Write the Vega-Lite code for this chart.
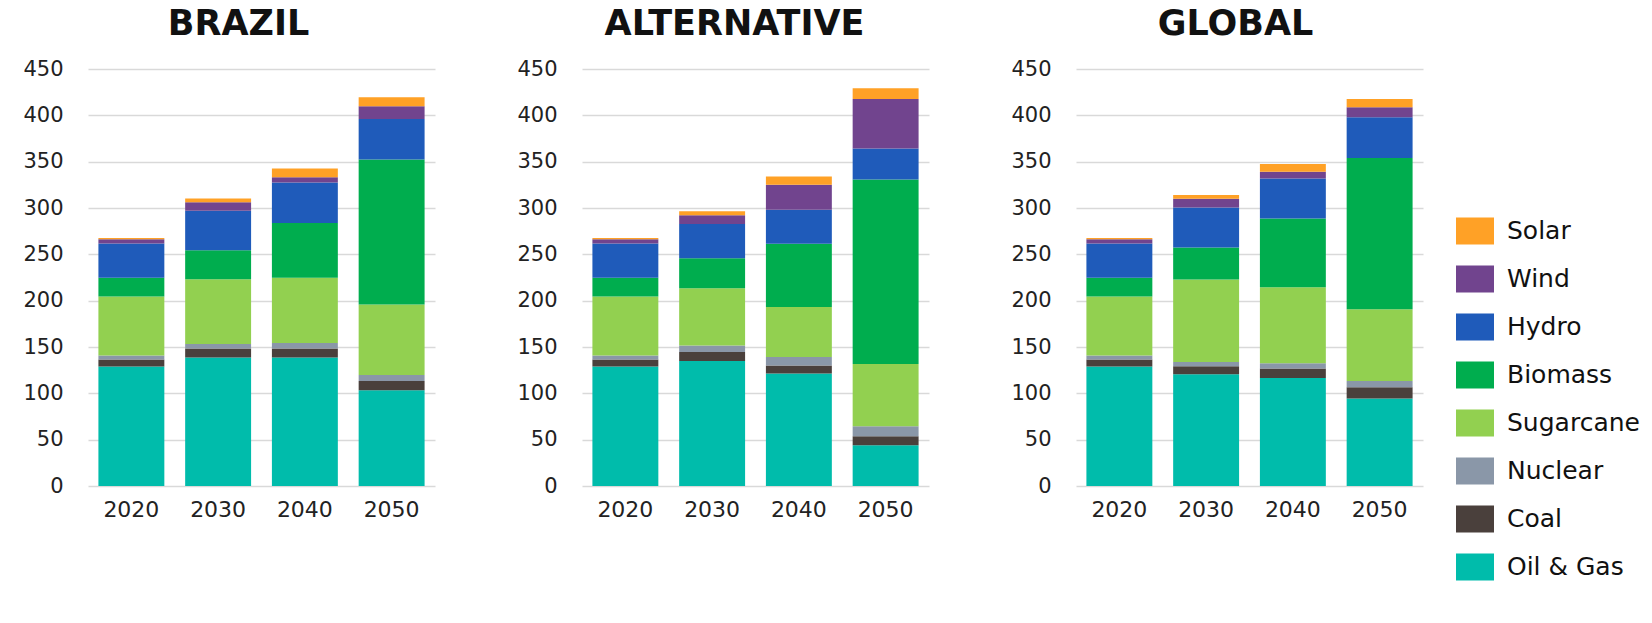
{
  "$schema": "https://vega.github.io/schema/vega-lite/v6.json",
  "padding": {"left": 22, "top": 7, "right": 0, "bottom": 0},
  "background": "white",
  "data": {"values": [
    {"scenario":"BRAZIL","year":"2020","source":"Oil & Gas","value":129},
    {"scenario":"BRAZIL","year":"2020","source":"Coal","value":7.5},
    {"scenario":"BRAZIL","year":"2020","source":"Nuclear","value":4.3},
    {"scenario":"BRAZIL","year":"2020","source":"Sugarcane","value":63.8},
    {"scenario":"BRAZIL","year":"2020","source":"Biomass","value":20},
    {"scenario":"BRAZIL","year":"2020","source":"Hydro","value":37},
    {"scenario":"BRAZIL","year":"2020","source":"Wind","value":4.7},
    {"scenario":"BRAZIL","year":"2020","source":"Solar","value":1.4},
    {"scenario":"BRAZIL","year":"2030","source":"Oil & Gas","value":138.6},
    {"scenario":"BRAZIL","year":"2030","source":"Coal","value":9.7},
    {"scenario":"BRAZIL","year":"2030","source":"Nuclear","value":5},
    {"scenario":"BRAZIL","year":"2030","source":"Sugarcane","value":69.9},
    {"scenario":"BRAZIL","year":"2030","source":"Biomass","value":31.3},
    {"scenario":"BRAZIL","year":"2030","source":"Hydro","value":42.5},
    {"scenario":"BRAZIL","year":"2030","source":"Wind","value":9.3},
    {"scenario":"BRAZIL","year":"2030","source":"Solar","value":4},
    {"scenario":"BRAZIL","year":"2040","source":"Oil & Gas","value":138.6},
    {"scenario":"BRAZIL","year":"2040","source":"Coal","value":9.7},
    {"scenario":"BRAZIL","year":"2040","source":"Nuclear","value":6.1},
    {"scenario":"BRAZIL","year":"2040","source":"Sugarcane","value":70.2},
    {"scenario":"BRAZIL","year":"2040","source":"Biomass","value":59.1},
    {"scenario":"BRAZIL","year":"2040","source":"Hydro","value":43.9},
    {"scenario":"BRAZIL","year":"2040","source":"Wind","value":5.7},
    {"scenario":"BRAZIL","year":"2040","source":"Solar","value":9.4},
    {"scenario":"BRAZIL","year":"2050","source":"Oil & Gas","value":103.3},
    {"scenario":"BRAZIL","year":"2050","source":"Coal","value":10.1},
    {"scenario":"BRAZIL","year":"2050","source":"Nuclear","value":6.5},
    {"scenario":"BRAZIL","year":"2050","source":"Sugarcane","value":75.9},
    {"scenario":"BRAZIL","year":"2050","source":"Biomass","value":156.6},
    {"scenario":"BRAZIL","year":"2050","source":"Hydro","value":43.6},
    {"scenario":"BRAZIL","year":"2050","source":"Wind","value":13.7},
    {"scenario":"BRAZIL","year":"2050","source":"Solar","value":9.7},
    {"scenario":"ALTERNATIVE","year":"2020","source":"Oil & Gas","value":129},
    {"scenario":"ALTERNATIVE","year":"2020","source":"Coal","value":7.5},
    {"scenario":"ALTERNATIVE","year":"2020","source":"Nuclear","value":4.3},
    {"scenario":"ALTERNATIVE","year":"2020","source":"Sugarcane","value":63.8},
    {"scenario":"ALTERNATIVE","year":"2020","source":"Biomass","value":20},
    {"scenario":"ALTERNATIVE","year":"2020","source":"Hydro","value":37},
    {"scenario":"ALTERNATIVE","year":"2020","source":"Wind","value":4.7},
    {"scenario":"ALTERNATIVE","year":"2020","source":"Solar","value":1.4},
    {"scenario":"ALTERNATIVE","year":"2030","source":"Oil & Gas","value":135},
    {"scenario":"ALTERNATIVE","year":"2030","source":"Coal","value":9.7},
    {"scenario":"ALTERNATIVE","year":"2030","source":"Nuclear","value":6.8},
    {"scenario":"ALTERNATIVE","year":"2030","source":"Sugarcane","value":62},
    {"scenario":"ALTERNATIVE","year":"2030","source":"Biomass","value":32.4},
    {"scenario":"ALTERNATIVE","year":"2030","source":"Hydro","value":36.7},
    {"scenario":"ALTERNATIVE","year":"2030","source":"Wind","value":9.7},
    {"scenario":"ALTERNATIVE","year":"2030","source":"Solar","value":4.3},
    {"scenario":"ALTERNATIVE","year":"2040","source":"Oil & Gas","value":121.3},
    {"scenario":"ALTERNATIVE","year":"2040","source":"Coal","value":8.7},
    {"scenario":"ALTERNATIVE","year":"2040","source":"Nuclear","value":9.3},
    {"scenario":"ALTERNATIVE","year":"2040","source":"Sugarcane","value":54},
    {"scenario":"ALTERNATIVE","year":"2040","source":"Biomass","value":68},
    {"scenario":"ALTERNATIVE","year":"2040","source":"Hydro","value":36.7},
    {"scenario":"ALTERNATIVE","year":"2040","source":"Wind","value":27},
    {"scenario":"ALTERNATIVE","year":"2040","source":"Solar","value":9},
    {"scenario":"ALTERNATIVE","year":"2050","source":"Oil & Gas","value":43.9},
    {"scenario":"ALTERNATIVE","year":"2050","source":"Coal","value":9.7},
    {"scenario":"ALTERNATIVE","year":"2050","source":"Nuclear","value":10.8},
    {"scenario":"ALTERNATIVE","year":"2050","source":"Sugarcane","value":67.3},
    {"scenario":"ALTERNATIVE","year":"2050","source":"Biomass","value":199.1},
    {"scenario":"ALTERNATIVE","year":"2050","source":"Hydro","value":33.5},
    {"scenario":"ALTERNATIVE","year":"2050","source":"Wind","value":53.3},
    {"scenario":"ALTERNATIVE","year":"2050","source":"Solar","value":11.5},
    {"scenario":"GLOBAL","year":"2020","source":"Oil & Gas","value":129},
    {"scenario":"GLOBAL","year":"2020","source":"Coal","value":7.5},
    {"scenario":"GLOBAL","year":"2020","source":"Nuclear","value":4.3},
    {"scenario":"GLOBAL","year":"2020","source":"Sugarcane","value":63.8},
    {"scenario":"GLOBAL","year":"2020","source":"Biomass","value":20},
    {"scenario":"GLOBAL","year":"2020","source":"Hydro","value":37},
    {"scenario":"GLOBAL","year":"2020","source":"Wind","value":4.7},
    {"scenario":"GLOBAL","year":"2020","source":"Solar","value":1.4},
    {"scenario":"GLOBAL","year":"2030","source":"Oil & Gas","value":120.6},
    {"scenario":"GLOBAL","year":"2030","source":"Coal","value":8.6},
    {"scenario":"GLOBAL","year":"2030","source":"Nuclear","value":4.7},
    {"scenario":"GLOBAL","year":"2030","source":"Sugarcane","value":88.9},
    {"scenario":"GLOBAL","year":"2030","source":"Biomass","value":34.6},
    {"scenario":"GLOBAL","year":"2030","source":"Hydro","value":43.2},
    {"scenario":"GLOBAL","year":"2030","source":"Wind","value":9.3},
    {"scenario":"GLOBAL","year":"2030","source":"Solar","value":4},
    {"scenario":"GLOBAL","year":"2040","source":"Oil & Gas","value":116.6},
    {"scenario":"GLOBAL","year":"2040","source":"Coal","value":10.1},
    {"scenario":"GLOBAL","year":"2040","source":"Nuclear","value":5.8},
    {"scenario":"GLOBAL","year":"2040","source":"Sugarcane","value":82},
    {"scenario":"GLOBAL","year":"2040","source":"Biomass","value":74.2},
    {"scenario":"GLOBAL","year":"2040","source":"Hydro","value":43.2},
    {"scenario":"GLOBAL","year":"2040","source":"Wind","value":7.2},
    {"scenario":"GLOBAL","year":"2040","source":"Solar","value":8.3},
    {"scenario":"GLOBAL","year":"2050","source":"Oil & Gas","value":94.3},
    {"scenario":"GLOBAL","year":"2050","source":"Coal","value":12.3},
    {"scenario":"GLOBAL","year":"2050","source":"Nuclear","value":6.8},
    {"scenario":"GLOBAL","year":"2050","source":"Sugarcane","value":77.4},
    {"scenario":"GLOBAL","year":"2050","source":"Biomass","value":163.1},
    {"scenario":"GLOBAL","year":"2050","source":"Hydro","value":43.9},
    {"scenario":"GLOBAL","year":"2050","source":"Wind","value":10.8},
    {"scenario":"GLOBAL","year":"2050","source":"Solar","value":9}
  ]},
  "transform": [
    {"calculate": "indexof(['Oil & Gas','Coal','Nuclear','Sugarcane','Biomass','Hydro','Wind','Solar'], datum.source)", "as": "stackOrder"}
  ],
  "spacing": 81,
  "resolve": {"axis": {"y": "independent", "x": "independent"}},
  "hconcat": [
    {
      "title": {"text": "BRAZIL", "dx": -23},
      "transform": [{"filter": "datum.scenario === 'BRAZIL'"}],
      "width": 347, "height": 417,
      "mark": {"type": "bar"},
      "encoding": {
        "x": {"field": "year", "type": "ordinal", "scale": {"paddingInner": 0.24, "paddingOuter": 0.12}, "axis": {"title": null}},
        "y": {"field": "value", "type": "quantitative", "stack": "zero", "scale": {"domain": [0, 450], "nice": false}, "axis": {"title": null, "values": [0, 50, 100, 150, 200, 250, 300, 350, 400, 450]}},
        "color": {
          "field": "source", "type": "nominal",
          "scale": {
            "domain": ["Solar", "Wind", "Hydro", "Biomass", "Sugarcane", "Nuclear", "Coal", "Oil & Gas"],
            "range": ["#FFA126", "#71448E", "#1F5BBA", "#00AD4E", "#92D050", "#8A97A8", "#4A403C", "#00BCAB"]
          },
          "legend": {
            "title": null, "orient": "none", "legendX": 1368, "legendY": 143,
            "symbolType": "M-1,-0.71H1V0.71H-1Z", "symbolSize": 1444, "symbolStrokeWidth": 0, "symbolOpacity": 1,
            "labelFont": "DejaVu Sans", "labelFontSize": 25, "labelColor": "#111111", "labelOffset": 13,
            "rowPadding": 15, "padding": 0, "labelLimit": 300
          }
        },
        "order": {"field": "stackOrder", "type": "quantitative"}
      }
    },
    {
      "title": {"text": "ALTERNATIVE", "dx": -21},
      "transform": [{"filter": "datum.scenario === 'ALTERNATIVE'"}],
      "width": 347, "height": 417,
      "mark": {"type": "bar"},
      "encoding": {
        "x": {"field": "year", "type": "ordinal", "scale": {"paddingInner": 0.24, "paddingOuter": 0.12}, "axis": {"title": null}},
        "y": {"field": "value", "type": "quantitative", "stack": "zero", "scale": {"domain": [0, 450], "nice": false}, "axis": {"title": null, "values": [0, 50, 100, 150, 200, 250, 300, 350, 400, 450]}},
        "color": {"field": "source", "type": "nominal"},
        "order": {"field": "stackOrder", "type": "quantitative"}
      }
    },
    {
      "title": {"text": "GLOBAL", "dx": -14},
      "transform": [{"filter": "datum.scenario === 'GLOBAL'"}],
      "width": 347, "height": 417,
      "mark": {"type": "bar"},
      "encoding": {
        "x": {"field": "year", "type": "ordinal", "scale": {"paddingInner": 0.24, "paddingOuter": 0.12}, "axis": {"title": null}},
        "y": {"field": "value", "type": "quantitative", "stack": "zero", "scale": {"domain": [0, 450], "nice": false}, "axis": {"title": null, "values": [0, 50, 100, 150, 200, 250, 300, 350, 400, 450]}},
        "color": {"field": "source", "type": "nominal"},
        "order": {"field": "stackOrder", "type": "quantitative"}
      }
    }
  ],
  "config": {
    "view": {"stroke": null},
    "title": {"font": "DejaVu Sans", "fontSize": 35, "fontWeight": "bold", "color": "#111111", "anchor": "middle", "frame": "group", "baseline": "alphabetic", "offset": 16},
    "axisX": {"labelAngle": 0, "domain": false, "ticks": false, "labelPadding": 13, "labelFontSize": 22, "labelFont": "DejaVu Sans", "labelColor": "#222222", "grid": false},
    "axisY": {"domain": false, "ticks": false, "grid": true, "gridColor": "#d9d9d9", "gridWidth": 1.5, "labelPadding": 25, "labelFontSize": 21, "labelFont": "DejaVu Sans", "labelColor": "#222222"}
  }
}
